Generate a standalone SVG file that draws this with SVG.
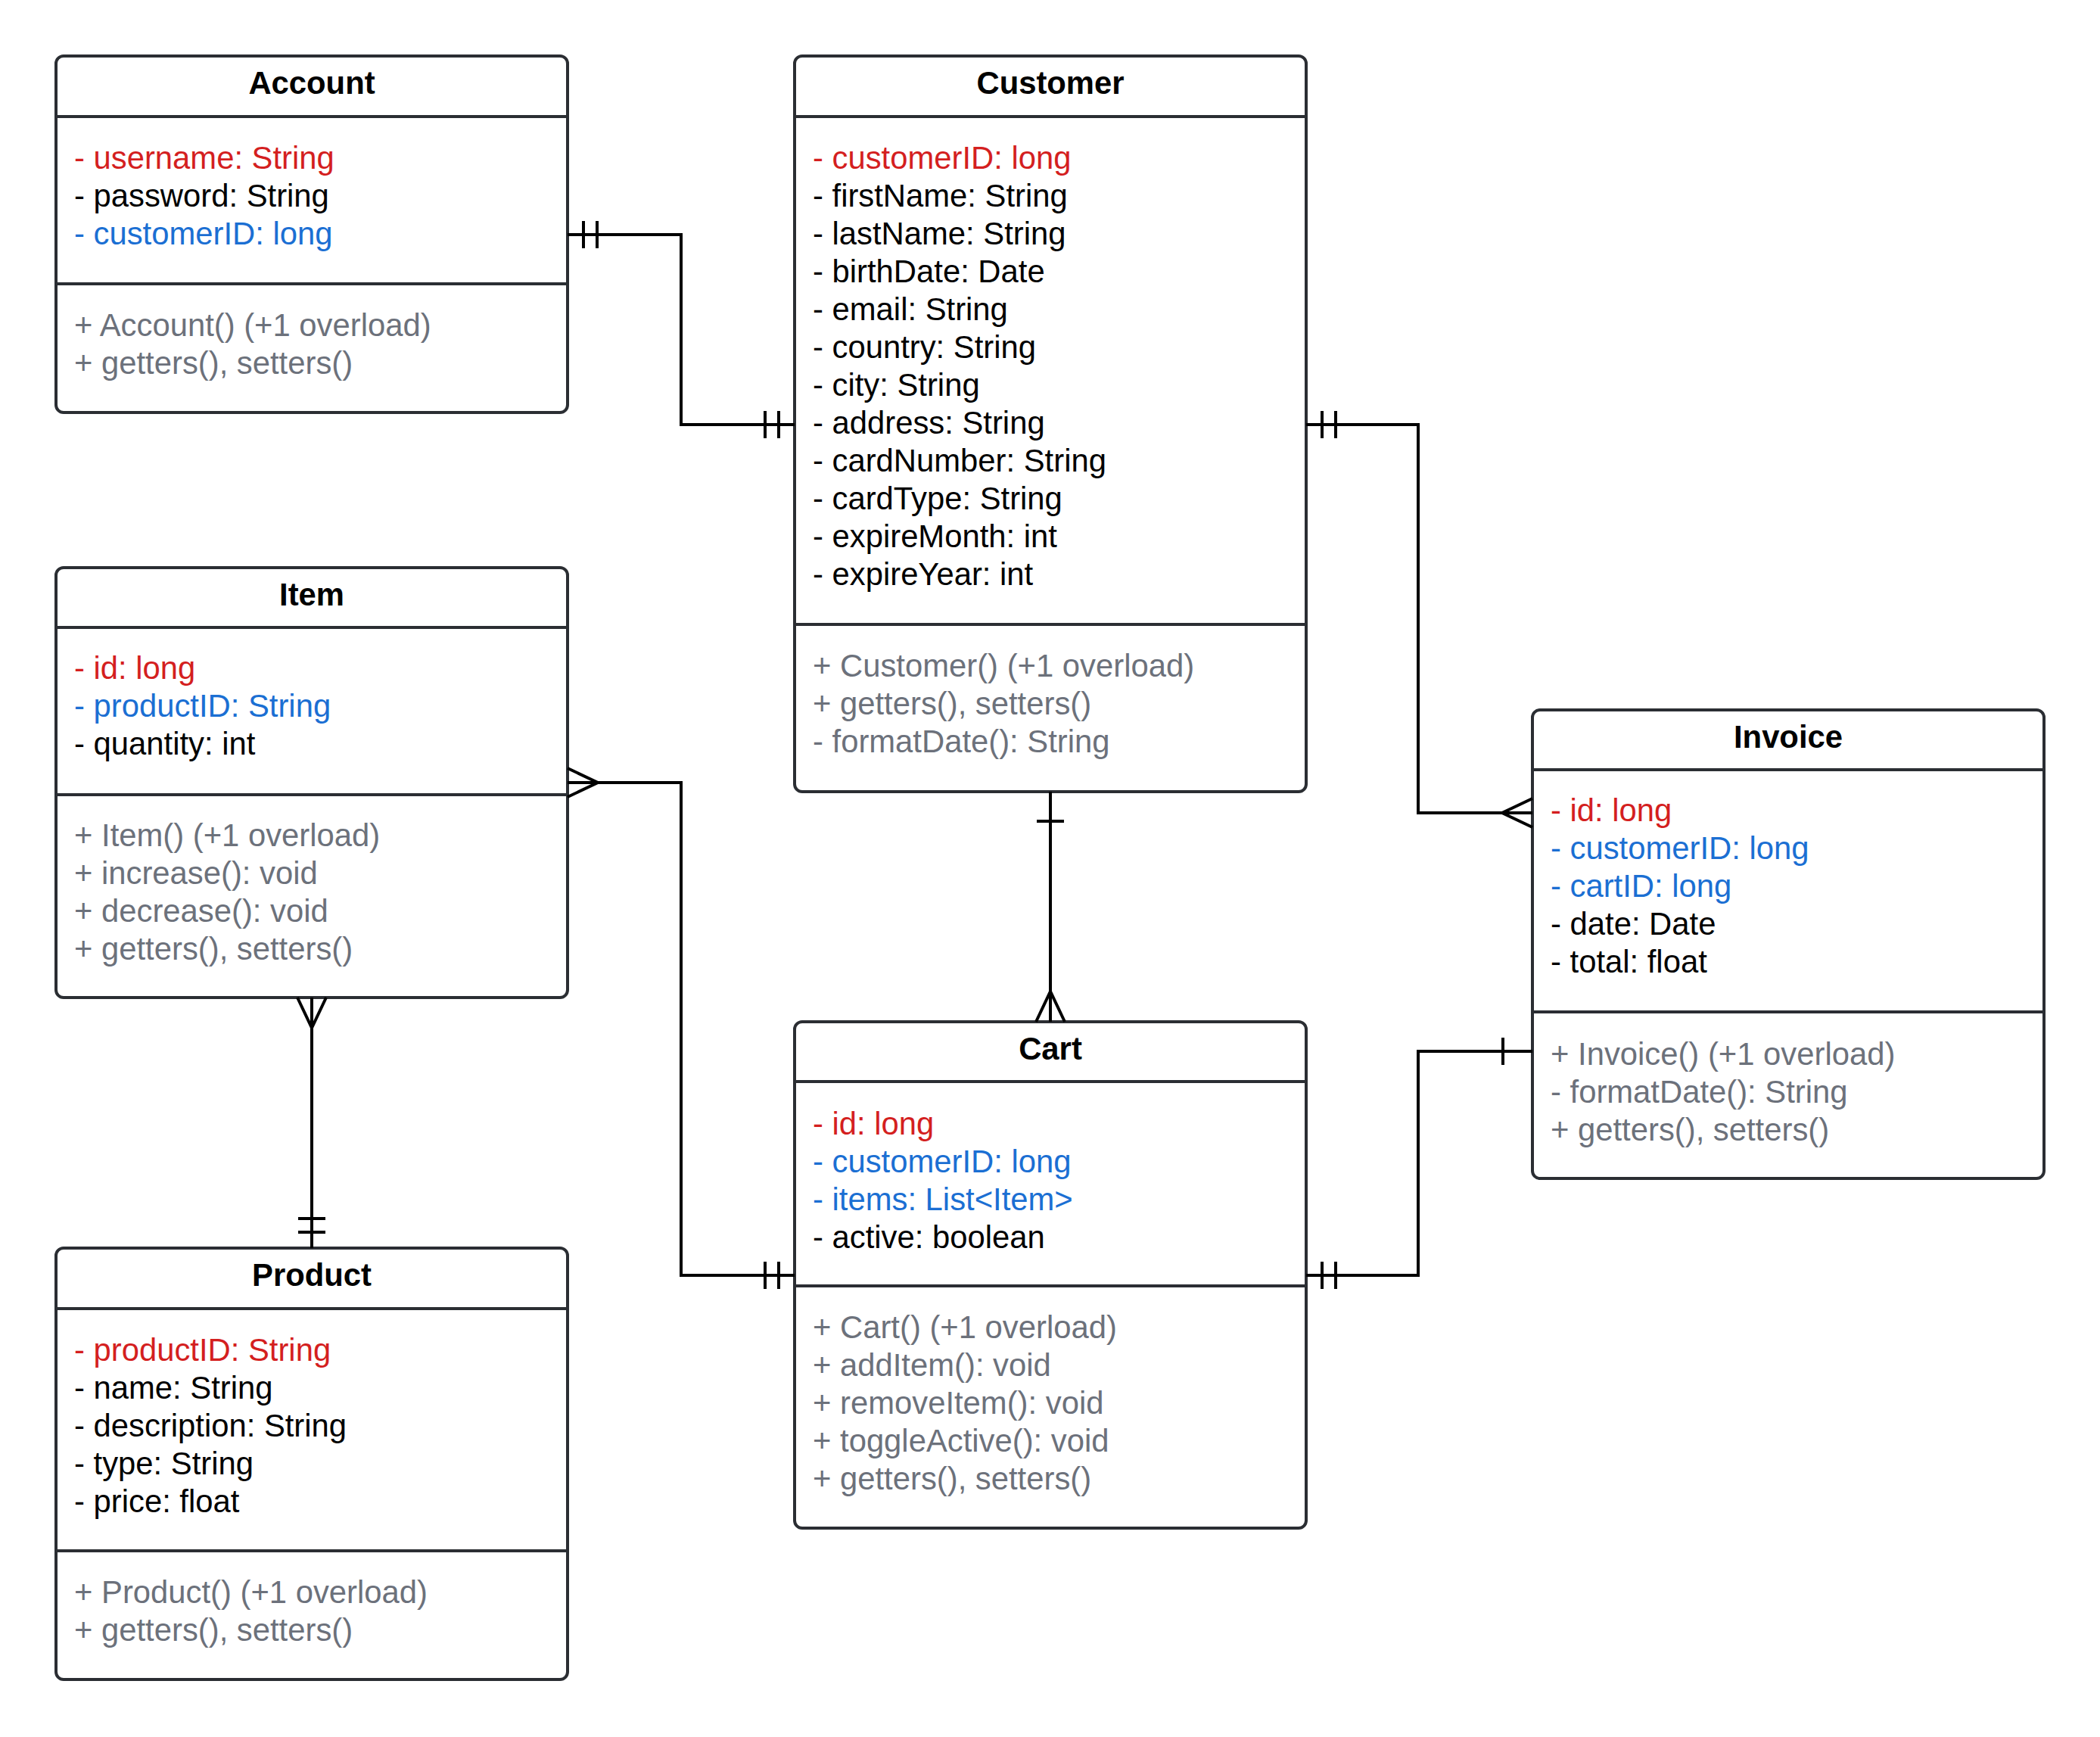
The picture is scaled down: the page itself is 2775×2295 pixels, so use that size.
<svg xmlns="http://www.w3.org/2000/svg" width="2775" height="2295" viewBox="0 0 2775 2295">
  <style>
    .box { fill: #ffffff; stroke: #2b2e33; stroke-width: 4; }
    .div { stroke: #2b2e33; stroke-width: 4; }
    text { font-family: "Liberation Sans", Arial, sans-serif; font-size: 41.8px; }
    .title { font-weight: bold; text-anchor: middle; fill: #000000; }
    .key { fill: #d41f1f; }
    .fk { fill: #1b6fd3; }
    .attr { fill: #000000; }
    .op { fill: #6c717b; }
    .conn { fill: none; stroke: #000000; stroke-width: 4; }
  </style>
  <defs>
    <!-- cardinality ends: the box lies on the +x side of the origin -->
    <marker id="one-mandatory" markerUnits="userSpaceOnUse" orient="auto-start-reverse" refX="0" refY="0" markerWidth="100" markerHeight="100" viewBox="-50 -50 100 100" overflow="visible">
      <path d="M -21 -18 V 18 M -39 -18 V 18" fill="none" stroke="#000" stroke-width="4"/>
    </marker>
    <marker id="one" markerUnits="userSpaceOnUse" orient="auto-start-reverse" refX="0" refY="0" markerWidth="100" markerHeight="100" viewBox="-50 -50 100 100" overflow="visible">
      <path d="M -39 -18 V 18" fill="none" stroke="#000" stroke-width="4"/>
    </marker>
    <marker id="many" markerUnits="userSpaceOnUse" orient="auto-start-reverse" refX="0" refY="0" markerWidth="100" markerHeight="100" viewBox="-50 -50 100 100" overflow="visible">
      <path d="M 0 -19 L -40 0 L 0 19" fill="none" stroke="#000" stroke-width="4"/>
    </marker>
  </defs>

  <rect width="2775" height="2295" fill="#ffffff"/>

  <!-- Account -->
  <g id="account">
    <rect class="box" x="74" y="74" width="676" height="471" rx="10"/>
    <line class="div" x1="74" y1="154" x2="750" y2="154"/>
    <line class="div" x1="74" y1="375" x2="750" y2="375"/>
    <text class="title" x="412" y="124">Account</text>
    <text class="key" x="98" y="223">- username: String</text>
    <text class="attr" x="98" y="273">- password: String</text>
    <text class="fk" x="98" y="323">- customerID: long</text>
    <text class="op" x="98" y="444">+ Account() (+1 overload)</text>
    <text class="op" x="98" y="494">+ getters(), setters()</text>
  </g>

  <!-- Customer -->
  <g id="customer">
    <rect class="box" x="1050" y="74" width="676" height="972" rx="10"/>
    <line class="div" x1="1050" y1="154" x2="1726" y2="154"/>
    <line class="div" x1="1050" y1="825" x2="1726" y2="825"/>
    <text class="title" x="1388" y="124">Customer</text>
    <text class="key" x="1074" y="223">- customerID: long</text>
    <text class="attr" x="1074" y="273">- firstName: String</text>
    <text class="attr" x="1074" y="323">- lastName: String</text>
    <text class="attr" x="1074" y="373">- birthDate: Date</text>
    <text class="attr" x="1074" y="423">- email: String</text>
    <text class="attr" x="1074" y="473">- country: String</text>
    <text class="attr" x="1074" y="523">- city: String</text>
    <text class="attr" x="1074" y="573">- address: String</text>
    <text class="attr" x="1074" y="623">- cardNumber: String</text>
    <text class="attr" x="1074" y="673">- cardType: String</text>
    <text class="attr" x="1074" y="723">- expireMonth: int</text>
    <text class="attr" x="1074" y="773">- expireYear: int</text>
    <text class="op" x="1074" y="894">+ Customer() (+1 overload)</text>
    <text class="op" x="1074" y="944">+ getters(), setters()</text>
    <text class="op" x="1074" y="994">- formatDate(): String</text>
  </g>

  <!-- Item -->
  <g id="item">
    <rect class="box" x="74" y="750" width="676" height="568" rx="10"/>
    <line class="div" x1="74" y1="829" x2="750" y2="829"/>
    <line class="div" x1="74" y1="1050" x2="750" y2="1050"/>
    <text class="title" x="412" y="800">Item</text>
    <text class="key" x="98" y="897">- id: long</text>
    <text class="fk" x="98" y="947">- productID: String</text>
    <text class="attr" x="98" y="997">- quantity: int</text>
    <text class="op" x="98" y="1118">+ Item() (+1 overload)</text>
    <text class="op" x="98" y="1168">+ increase(): void</text>
    <text class="op" x="98" y="1218">+ decrease(): void</text>
    <text class="op" x="98" y="1268">+ getters(), setters()</text>
  </g>

  <!-- Product -->
  <g id="product">
    <rect class="box" x="74" y="1649" width="676" height="570" rx="10"/>
    <line class="div" x1="74" y1="1729" x2="750" y2="1729"/>
    <line class="div" x1="74" y1="2049" x2="750" y2="2049"/>
    <text class="title" x="412" y="1699">Product</text>
    <text class="key" x="98" y="1798">- productID: String</text>
    <text class="attr" x="98" y="1848">- name: String</text>
    <text class="attr" x="98" y="1898">- description: String</text>
    <text class="attr" x="98" y="1948">- type: String</text>
    <text class="attr" x="98" y="1998">- price: float</text>
    <text class="op" x="98" y="2118">+ Product() (+1 overload)</text>
    <text class="op" x="98" y="2168">+ getters(), setters()</text>
  </g>

  <!-- Cart -->
  <g id="cart">
    <rect class="box" x="1050" y="1350" width="676" height="669" rx="10"/>
    <line class="div" x1="1050" y1="1429" x2="1726" y2="1429"/>
    <line class="div" x1="1050" y1="1699" x2="1726" y2="1699"/>
    <text class="title" x="1388" y="1400">Cart</text>
    <text class="key" x="1074" y="1499">- id: long</text>
    <text class="fk" x="1074" y="1549">- customerID: long</text>
    <text class="fk" x="1074" y="1599">- items: List&lt;Item&gt;</text>
    <text class="attr" x="1074" y="1649">- active: boolean</text>
    <text class="op" x="1074" y="1768">+ Cart() (+1 overload)</text>
    <text class="op" x="1074" y="1818">+ addItem(): void</text>
    <text class="op" x="1074" y="1868">+ removeItem(): void</text>
    <text class="op" x="1074" y="1918">+ toggleActive(): void</text>
    <text class="op" x="1074" y="1968">+ getters(), setters()</text>
  </g>

  <!-- Invoice -->
  <g id="invoice">
    <rect class="box" x="2025" y="938" width="676" height="619" rx="10"/>
    <line class="div" x1="2025" y1="1017" x2="2701" y2="1017"/>
    <line class="div" x1="2025" y1="1337" x2="2701" y2="1337"/>
    <text class="title" x="2363" y="988">Invoice</text>
    <text class="key" x="2049" y="1085">- id: long</text>
    <text class="fk" x="2049" y="1135">- customerID: long</text>
    <text class="fk" x="2049" y="1185">- cartID: long</text>
    <text class="attr" x="2049" y="1235">- date: Date</text>
    <text class="attr" x="2049" y="1285">- total: float</text>
    <text class="op" x="2049" y="1407">+ Invoice() (+1 overload)</text>
    <text class="op" x="2049" y="1457">- formatDate(): String</text>
    <text class="op" x="2049" y="1507">+ getters(), setters()</text>
  </g>

  <!-- relationships -->
  <g id="connectors">
    <path class="conn" d="M 750 310 H 900 V 561 H 1050" marker-start="url(#one-mandatory)" marker-end="url(#one-mandatory)"/>
    <path class="conn" d="M 1726 561 H 1874 V 1074 H 2025" marker-start="url(#one-mandatory)" marker-end="url(#many)"/>
    <path class="conn" d="M 1388 1046 V 1350" marker-start="url(#one)" marker-end="url(#many)"/>
    <path class="conn" d="M 750 1034 H 900 V 1685 H 1050" marker-start="url(#many)" marker-end="url(#one-mandatory)"/>
    <path class="conn" d="M 412 1318 V 1649" marker-start="url(#many)" marker-end="url(#one-mandatory)"/>
    <path class="conn" d="M 1726 1685 H 1874 V 1389 H 2025" marker-start="url(#one-mandatory)" marker-end="url(#one)"/>
  </g>
</svg>
